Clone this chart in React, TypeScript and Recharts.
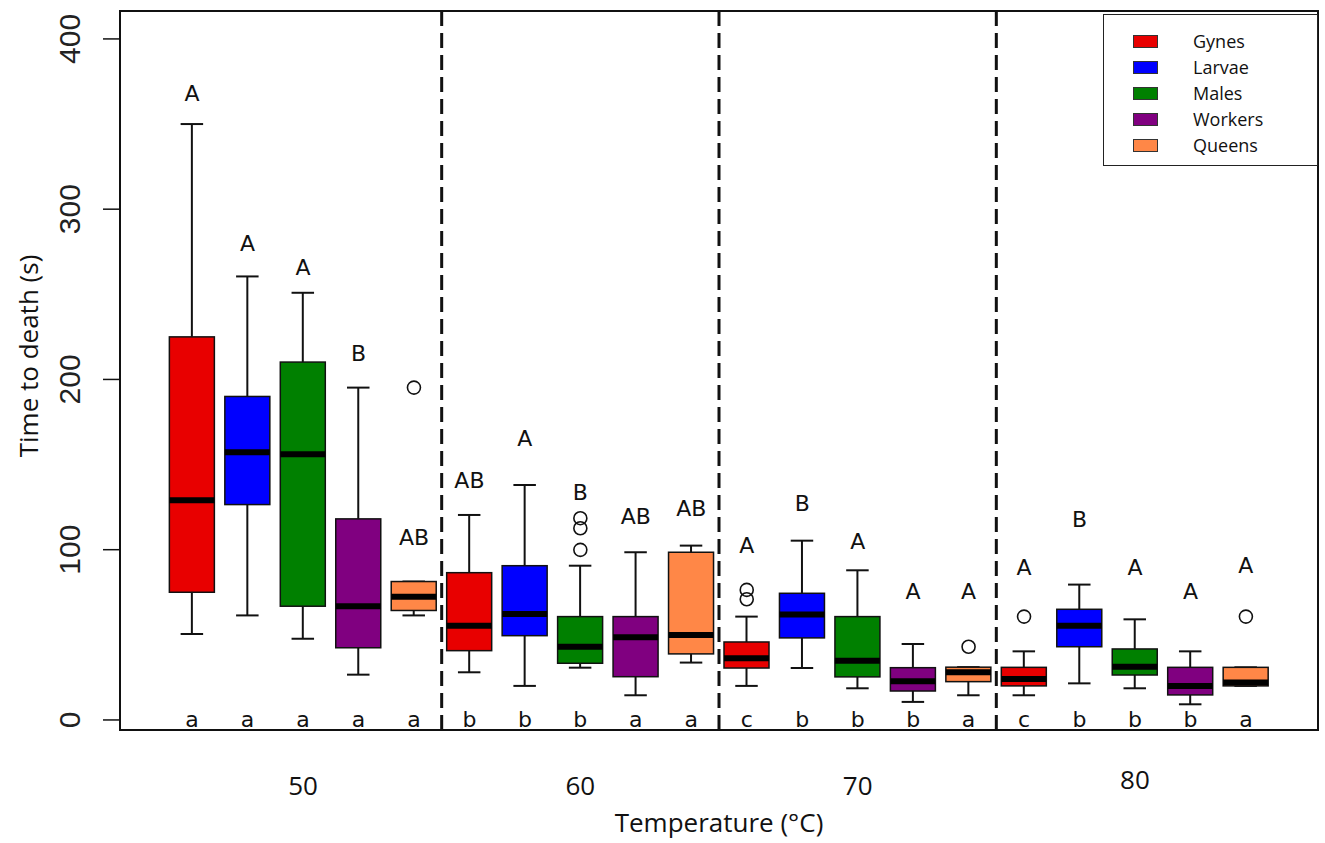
import React from "react";
import {
  Bar,
  ComposedChart,
  Label,
  Legend,
  ReferenceArea,
  ReferenceLine,
  Scatter,
  XAxis,
  YAxis,
} from "recharts";

// castes repeat inside every temperature group
const castes = ["Gynes", "Larvae", "Males", "Workers", "Queens"];
const casteColors = ["#e80000", "#0000ff", "#008000", "#800080", "#ff8747"];
const temperatures = ["50", "60", "70", "80"];
const temperatureTicks = [3, 8, 13, 18];
const groupDividers = [5.5, 10.5, 15.5];
const yTicks = [0, 100, 200, 300, 400];

// box stats, in order 50 (G L M W Q), 60, 70, 80
const whiskerLow = [50.5, 61.4, 47.7, 26.6, 61.4, 28, 20, 30.7, 14.5, 33.7, 20, 30.5, 18.6, 10.6, 14.5, 14.5, 21.5, 18.6, 9.2, 20];
const q1 = [75, 126.5, 66.8, 42.4, 64.3, 40.7, 49.5, 33.3, 25.4, 38.8, 30.5, 48.2, 25.3, 17, 22.5, 20, 43, 26.4, 14.7, 20];
const median = [129, 157.3, 156, 66.8, 72.4, 55.4, 62.3, 43, 48.6, 49.9, 36.2, 62, 34.8, 22.7, 28, 24, 55.4, 31.3, 20, 22];
const q3 = [225, 190, 210.2, 118.1, 81.3, 86.5, 90.6, 60.7, 60.7, 98.5, 45.8, 74.4, 60.7, 30.7, 31, 30.9, 65, 41.7, 30.9, 30.9];
const whiskerHigh = [350, 260.5, 250.9, 195.2, 81.3, 120.4, 138, 90.6, 98.5, 102.4, 60.7, 105.3, 87.9, 44.6, 31, 40.3, 79.5, 59.1, 40.3, 30.9];

// significance letters
const upperLetters = ["A", "A", "A", "B", "AB", "AB", "A", "B", "AB", "AB", "A", "B", "A", "A", "A", "A", "B", "A", "A", "A"];
const upperLetterY = [367.8, 279.6, 265.6, 215.3, 107.2, 140.4, 165.5, 133.5, 119.4, 124.3, 102.2, 127.3, 105.1, 75.4, 75.4, 89.5, 118, 89.5, 75.4, 91];
const lowerLetters = ["a", "a", "a", "a", "a", "b", "b", "b", "a", "a", "c", "b", "b", "b", "a", "c", "b", "b", "b", "a"];

// outliers (box position, value)
const outlierPos = [5, 8, 8, 8, 11, 11, 15, 16, 20];
const outlierValues = [195.2, 99.9, 112.6, 118.5, 70.9, 76.4, 43, 60.7, 60.7];

const boxData = whiskerLow.map((lo, i) => ({
  pos: i + 1,
  caste: i % 5,
  range: [lo, whiskerHigh[i]],
  lo,
  q1: q1[i],
  med: median[i],
  q3: q3[i],
  hi: whiskerHigh[i],
}));

const upperData = upperLetters.map((label, i) => ({ pos: i + 1, value: upperLetterY[i], label }));
const lowerData = lowerLetters.map((label, i) => ({ pos: i + 1, value: 0, label }));
const outlierData = outlierPos.map((pos, i) => ({ pos, value: outlierValues[i] }));

const INK = "#111";
const LETTER_FONT = "'DejaVu Sans', sans-serif";
const TEXT_FONT = "'Open Sans', sans-serif";

function BoxShape(props: any) {
  const { x, y, width, height } = props;
  const d = props.payload ?? props;
  const top = Math.min(y, y + height);
  const bottom = Math.max(y, y + height);
  const span = d.hi - d.lo;
  const py = (v: number) => (span === 0 ? top : bottom - ((v - d.lo) / span) * (bottom - top));
  const cx = x + width / 2;
  const cap = width / 4;
  return (
    <g>
      <line x1={cx} x2={cx} y1={py(d.hi)} y2={py(d.q3)} stroke={INK} strokeWidth={2} />
      <line x1={cx} x2={cx} y1={py(d.q1)} y2={py(d.lo)} stroke={INK} strokeWidth={2} />
      <line x1={cx - cap} x2={cx + cap} y1={py(d.hi)} y2={py(d.hi)} stroke={INK} strokeWidth={2} />
      <line x1={cx - cap} x2={cx + cap} y1={py(d.lo)} y2={py(d.lo)} stroke={INK} strokeWidth={2} />
      <rect
        x={x}
        y={py(d.q3)}
        width={width}
        height={py(d.q1) - py(d.q3)}
        fill={casteColors[d.caste]}
        stroke={INK}
        strokeWidth={1.5}
      />
      <line x1={x} x2={x + width} y1={py(d.med)} y2={py(d.med)} stroke="#000" strokeWidth={6} />
    </g>
  );
}

function LetterShape(props: any) {
  const { cx, cy, payload } = props;
  return (
    <text x={cx} y={cy} textAnchor="middle" dominantBaseline="central" fontSize={22} fontFamily={LETTER_FONT} fill={INK}>
      {payload.label}
    </text>
  );
}

function OutlierShape(props: any) {
  const { cx, cy } = props;
  return <circle cx={cx} cy={cy} r={6.5} fill="none" stroke={INK} strokeWidth={1.6} />;
}

function YTick(props: any) {
  const { y, payload } = props;
  return (
    <text transform={`translate(80, ${y}) rotate(-90)`} textAnchor="middle" fontSize={30} fontFamily="'Liberation Sans', Arial, sans-serif" fill="#222">
      {payload.value}
    </text>
  );
}

function XTick(props: any) {
  const { x, payload, index } = props;
  const lift = index === 3 ? -6 : 0;
  return (
    <text x={x} y={795 + lift} textAnchor="middle" fontSize={26} fontFamily={TEXT_FONT} fill={INK}>
      {temperatures[temperatureTicks.indexOf(payload.value)]}
    </text>
  );
}

function LegendBox() {
  return (
    <div
      style={{
        width: 215,
        height: 152,
        boxSizing: "border-box",
        border: "1.5px solid #222",
        background: "#fff",
        position: "relative",
        fontFamily: TEXT_FONT,
      }}
    >
      {castes.map((name, i) => (
        <div key={name} style={{ position: "absolute", left: 29, top: 17 + i * 26, display: "flex", alignItems: "center" }}>
          <div style={{ width: 25, height: 13, background: casteColors[i], border: "1px solid #333", boxSizing: "border-box" }} />
          <span style={{ marginLeft: 35, fontSize: 18, color: INK, lineHeight: "18px" }}>{name}</span>
        </div>
      ))}
    </div>
  );
}

export default function App() {
  return (
    <div style={{ position: "absolute", left: 0, top: 0, background: "#fff" }}>
      <ComposedChart width={1325} height={843} data={boxData} margin={{ top: 11, right: 7, bottom: 0, left: 0 }}>
        <XAxis
          dataKey="pos"
          type="number"
          domain={[-0.3, 21.3]}
          allowDataOverflow
          ticks={temperatureTicks}
          tick={<XTick />}
          tickLine={false}
          axisLine={false}
          height={113}
        >
          <Label
            content={() => (
              <text x={719} y={832} textAnchor="middle" fontSize={26} fontFamily={TEXT_FONT} fill={INK}>
                Temperature (°C)
              </text>
            )}
          />
        </XAxis>
        <YAxis
          type="number"
          domain={[-5.9, 416.4]}
          allowDataOverflow
          ticks={yTicks}
          tick={<YTick />}
          tickSize={17}
          tickLine={{ stroke: INK, strokeWidth: 1.5 }}
          axisLine={false}
          width={120}
        >
          <Label
            content={() => (
              <text transform="translate(38, 356) rotate(-90)" textAnchor="middle" fontSize={26} fontFamily={TEXT_FONT} fill={INK}>
                Time to death (s)
              </text>
            )}
          />
        </YAxis>
        <Legend
          layout="vertical"
          align="center"
          verticalAlign="middle"
          content={() => <LegendBox />}
          wrapperStyle={{ left: 1103, top: 14, width: 215, height: 152 }}
        />
        {groupDividers.map((gx) => (
          <ReferenceLine key={gx} x={gx} stroke={INK} strokeWidth={3} strokeDasharray="15 7" />
        ))}
        <Bar dataKey="range" barSize={45} shape={<BoxShape />} isAnimationActive={false} />
        <Scatter data={outlierData} dataKey="value" shape={<OutlierShape />} isAnimationActive={false} />
        <Scatter data={upperData} dataKey="value" shape={<LetterShape />} isAnimationActive={false} />
        <Scatter data={lowerData} dataKey="value" shape={<LetterShape />} isAnimationActive={false} />
        <ReferenceArea
          x1={-0.3}
          x2={21.3}
          y1={-5.9}
          y2={416.4}
          fill="none"
          stroke={INK}
          strokeWidth={2}
          ifOverflow="visible"
        />
      </ComposedChart>
    </div>
  );
}
